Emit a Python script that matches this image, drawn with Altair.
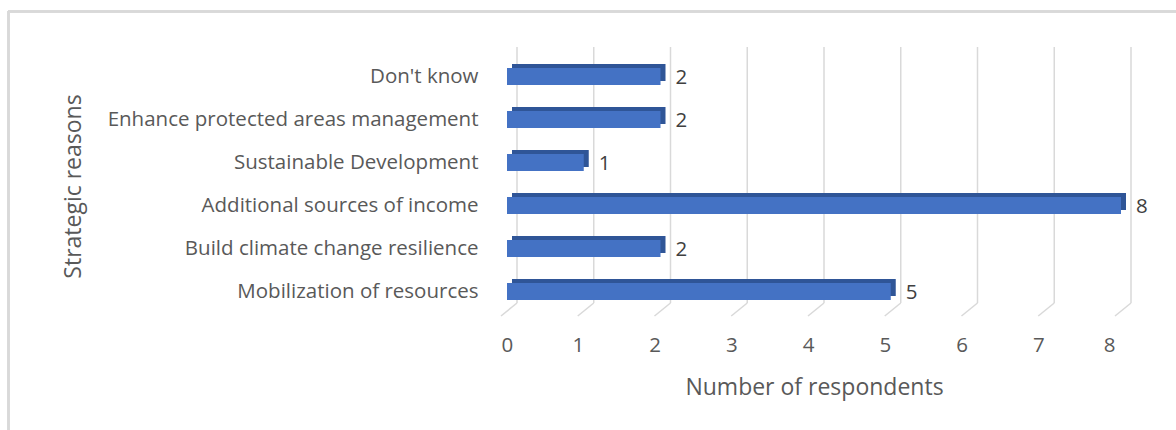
import altair as alt
import pandas as pd

categories = ["Don't know", "Enhance protected areas management", "Sustainable Development",
              "Additional sources of income", "Build climate change resilience", "Mobilization of resources"]
values = [2, 2, 1, 8, 2, 5]
ticks = [0, 1, 2, 3, 4, 5, 6, 7, 8]

FONT = "Open Sans"
FS = 20.5
TFS = 23
PL, PT, W, H = 507, 55, 614, 258

df = pd.DataFrame({"reason": categories, "n": values})
tk = pd.DataFrame({"t": ticks})

xs = alt.Scale(domain=[0, 8], nice=False, zero=True)
ys = alt.Scale(domain=categories, paddingInner=0, paddingOuter=0)

xaxis = alt.Axis(values=ticks, format="d", grid=False, domain=False, ticks=False, labelOffset=-6,
                 labelPadding=22, labelFont=FONT, labelFontSize=FS, labelColor="#595959",
                 title="Number of respondents", titleFont=FONT, titleFontSize=TFS,
                 titleFontWeight="normal", titleColor="#595959", titlePadding=21)
yaxis = alt.Axis(grid=False, domain=False, ticks=False, labelPadding=29,
                 labelFont=FONT, labelFontSize=FS, labelColor="#595959", labelLimit=500,
                 title="Strategic reasons", titleFont=FONT, titleFontSize=TFS,
                 titleFontWeight="normal", titleColor="#595959",
                 titleX=-434, titleY=131, titleAngle=270, titleAlign="center",
                 titleBaseline="middle")

grid_v = alt.Chart(tk).mark_rule(color="#d9d9d9", strokeWidth=1.5, xOffset=10).encode(
    x=alt.X("t:Q", scale=xs, axis=xaxis), y=alt.value(-8), y2=alt.value(248))
grid_d = alt.Chart(tk).mark_rule(color="#d9d9d9", strokeWidth=1.5, xOffset=10, x2Offset=-6).encode(
    x=alt.X("t:Q", scale=xs), x2="t:Q", y=alt.value(248), y2=alt.value(261))

shadow = alt.Chart(df).mark_bar(color="#2f5597", height=17, xOffset=5, x2Offset=5, yOffset=-4).encode(
    x=alt.X("n:Q", scale=xs), y=alt.Y("reason:N", scale=ys, sort=categories, axis=yaxis))
front = alt.Chart(df).mark_bar(color="#4472c4", height=17).encode(
    x=alt.X("n:Q", scale=xs), y=alt.Y("reason:N", scale=ys, sort=categories))
labels = alt.Chart(df).mark_text(align="left", baseline="middle", dx=15, dy=1, font=FONT,
                                 fontSize=FS, color="#404040").encode(
    x=alt.X("n:Q", scale=xs), y=alt.Y("reason:N", scale=ys, sort=categories), text="n:Q")

border_l = alt.Chart(tk).mark_rule(color="#d9d9d9", strokeWidth=2).encode(
    x=alt.value(8.5 - PL), y=alt.value(11 - PT), y2=alt.value(430))
border_t = alt.Chart(tk).mark_rule(color="#d9d9d9", strokeWidth=2).encode(
    x=alt.value(8 - PL), x2=alt.value(1176 - PL), y=alt.value(11.5 - PT))

chart = alt.layer(grid_v, grid_d, shadow, front, labels, border_l, border_t).properties(
    width=W, height=H,
    autosize=alt.AutoSizeParams(type="none"),
    padding={"left": PL, "top": PT, "right": 1176 - PL - W, "bottom": 430 - PT - H},
    background="white",
).configure_view(stroke=None)

chart.save("out.html", embed_options={"renderer": "svg", "actions": False})
